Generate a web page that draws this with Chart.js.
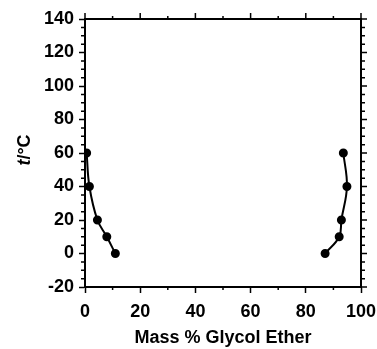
<!DOCTYPE html>
<html>
<head>
<meta charset="utf-8">
<script src="https://cdn.jsdelivr.net/npm/chart.js@4/dist/chart.umd.min.js"></script>
<style>
  html, body { margin: 0; padding: 0; background: #fff; }
  canvas { display: block; }
</style>
</head>
<body>
<canvas id="chart" width="377" height="349"></canvas>
<script>
'use strict';

// temperatures (°C) and mass % glycol ether on each branch
const tempLevels = [0, 10, 20, 40, 60];
const leftMass = [11.0, 7.9, 4.5, 1.6, 0.6];
const rightMass = [87.0, 92.1, 92.9, 94.9, 93.6];

const xTicks = [0, 20, 40, 60, 80, 100];
const yTicks = [-20, 0, 20, 40, 60, 80, 100, 120, 140];

const FONT = 'Liberation Sans, Arial, Helvetica, sans-serif';

function toPoints(xs, ys) {
  return xs.map((x, i) => ({ x: x, y: ys[i] }));
}

// extra ticks: minor ticks plus mirrored ticks on top / right, and y title (italic t only)
const boxTicks = {
  id: 'boxTicks',
  afterDraw(chart) {
    const ctx = chart.ctx;
    const xs = chart.scales.x, ys = chart.scales.y;
    const a = chart.chartArea;
    ctx.save();
    ctx.strokeStyle = '#000';
    ctx.lineWidth = 1.5;
    ctx.beginPath();
    for (let v = 0; v <= 100; v += 10) {
      const px = xs.getPixelForValue(v);
      const len = v % 20 === 0 ? 6 : 3;
      ctx.moveTo(px, a.top); ctx.lineTo(px, a.top - len);
      if (v % 20 !== 0) { ctx.moveTo(px, a.bottom); ctx.lineTo(px, a.bottom + len); }
    }
    for (let v = -20; v <= 140; v += 5) {
      const py = ys.getPixelForValue(v);
      const len = v % 20 === 0 ? 6 : 4;
      ctx.moveTo(a.right, py); ctx.lineTo(a.right + len, py);
      if (v % 20 !== 0) { ctx.moveTo(a.left, py); ctx.lineTo(a.left - len, py); }
    }
    ctx.stroke();
    ctx.lineWidth = 2;
    ctx.strokeRect(a.left, a.top, a.right - a.left, a.bottom - a.top);

    // y axis title
    const italic = 'italic bold 18px ' + FONT;
    const upright = 'bold 18px ' + FONT;
    ctx.font = italic;
    const w1 = ctx.measureText('t').width;
    ctx.font = upright;
    const w2 = ctx.measureText('/°C').width;
    ctx.translate(25, (a.top + a.bottom) / 2 - 3);
    ctx.rotate(-Math.PI / 2);
    ctx.fillStyle = '#000';
    ctx.textBaseline = 'middle';
    ctx.textAlign = 'left';
    const start = -(w1 + w2) / 2;
    ctx.font = italic;
    ctx.fillText('t', start, 0);
    ctx.font = upright;
    ctx.fillText('/°C', start + w1, 0);
    ctx.restore();
  }
};

const seriesStyle = {
  borderColor: '#000',
  backgroundColor: '#000',
  borderWidth: 2,
  pointRadius: 3.5,
  pointHoverRadius: 3.5,
  showLine: true,
  tension: 0.4,
  fill: false
};

new Chart(document.getElementById('chart'), {
  type: 'scatter',
  data: {
    datasets: [
      Object.assign({ label: 'left', data: toPoints(leftMass, tempLevels) }, seriesStyle),
      Object.assign({ label: 'right', data: toPoints(rightMass, tempLevels) }, seriesStyle)
    ]
  },
  options: {
    responsive: false,
    animation: false,
    events: [],
    layout: { padding: { top: 19, right: 16, left: 0, bottom: 0 } },
    plugins: { legend: { display: false }, tooltip: { enabled: false } },
    scales: {
      x: {
        type: 'linear', min: 0, max: 100,
        afterBuildTicks: s => { s.ticks = xTicks.map(v => ({ value: v })); },
        afterFit: s => { s.height = 62; s.paddingLeft = 0; s.paddingRight = 0; },
        grid: { drawOnChartArea: false, tickLength: 6, tickWidth: 1.5, tickColor: '#000' },
        border: { color: '#000', width: 2 },
        ticks: { color: '#000', padding: 8, maxRotation: 0, font: { family: FONT, size: 18, weight: 'bold' } },
        title: { display: true, text: 'Mass % Glycol Ether', color: '#000', padding: { top: 0, bottom: 0 }, font: { family: FONT, size: 18, weight: 'bold' } }
      },
      y: {
        type: 'linear', min: -20, max: 140,
        afterBuildTicks: s => { s.ticks = yTicks.map(v => ({ value: v })); },
        afterFit: s => { s.width = 85; s.paddingTop = 0; s.paddingBottom = 0; },
        grid: { drawOnChartArea: false, tickLength: 6, tickWidth: 1.5, tickColor: '#000' },
        border: { color: '#000', width: 2 },
        ticks: { color: '#000', padding: 5, font: { family: FONT, size: 18, weight: 'bold' } },
        title: { display: false }
      }
    }
  },
  plugins: [boxTicks]
});
</script>
</body>
</html>
